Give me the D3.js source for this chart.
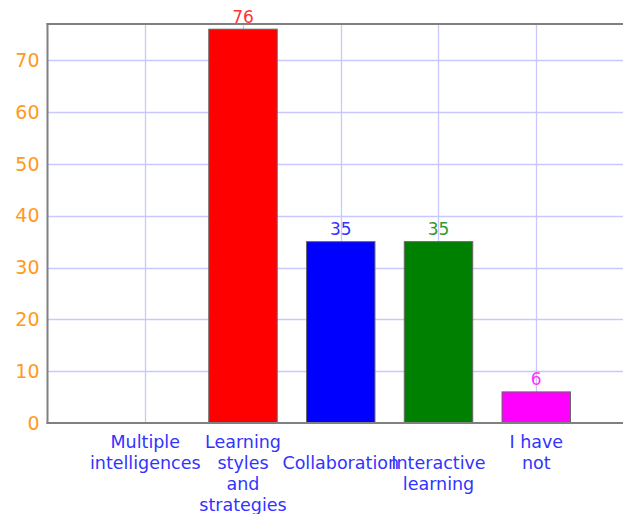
<!DOCTYPE html>
<html>
<head>
<meta charset="utf-8">
<script src="https://cdn.jsdelivr.net/npm/d3@7"></script>
<style>
  html, body { margin: 0; padding: 0; background: #fff; }
  svg { display: block; }
</style>
</head>
<body>
<svg id="chart" width="623" height="514"></svg>
<script>
// ---- data ----
const categories = ["Multiple intelligences", "Learning styles and strategies", "Collaboration", "Interactive learning", "I have not"];
const values = [0, 76, 35, 35, 6];
const barColors = ["#ff9900", "#ff0000", "#0000ff", "#008000", "#ff00ff"];
const valueLabelColors = ["#ff9900", "#ff3333", "#3333ff", "#339933", "#ff33ff"];
const yTicks = [0, 10, 20, 30, 40, 50, 60, 70];
// label lines as wrapped in the reference
const labelLines = [["Multiple", "intelligences"], ["Learning", "styles", "and", "strategies"], ["Collaboration"], ["Interactive", "learning"], ["I have", "not"]];
const labelStartLine = [0, 0, 1, 1, 0];

// ---- layout ----
const plotLeft = 47.5, plotTop = 24, plotBottom = 423, plotRight = 634;
const svg = d3.select("#chart");
const font = "DejaVu Sans, Verdana, sans-serif";

const x = d3.scaleLinear().domain([0, categories.length + 1]).range([plotLeft, plotRight]);
const y = d3.scaleLinear().domain([0, 77]).range([plotBottom, plotTop]);
const barW = x(0.7) - x(0);

// grid
svg.append("g").selectAll("line").data(yTicks.filter(d => d > 0)).join("line")
  .attr("x1", plotLeft).attr("x2", 623)
  .attr("y1", d => Math.round(y(d)) + 0.5).attr("y2", d => Math.round(y(d)) + 0.5)
  .attr("stroke", "#c8c8ff").attr("stroke-width", 1.3);
svg.append("g").selectAll("line").data(categories).join("line")
  .attr("x1", (d, i) => Math.round(x(i + 1)) + 0.5).attr("x2", (d, i) => Math.round(x(i + 1)) + 0.5)
  .attr("y1", plotTop).attr("y2", plotBottom)
  .attr("stroke", "#c8c8ff").attr("stroke-width", 1.3);

// bars
svg.append("g").selectAll("rect").data(values).join("rect")
  .attr("x", (d, i) => x(i + 1) - barW / 2)
  .attr("y", d => y(d))
  .attr("width", barW)
  .attr("height", d => plotBottom - y(d))
  .attr("fill", (d, i) => barColors[i])
  .attr("stroke", "#666")
  .attr("stroke-width", 1)
  .style("display", d => d > 0 ? null : "none");

// value labels
svg.append("g").selectAll("text").data(values).join("text")
  .attr("x", (d, i) => x(i + 1))
  .attr("y", d => y(d) - 6.5)
  .attr("text-anchor", "middle")
  .attr("font-family", font)
  .attr("font-size", 17)
  .attr("fill", (d, i) => valueLabelColors[i])
  .text(d => d)
  .style("display", d => d > 0 ? null : "none");

// axes frame
const yAxis = d3.axisLeft(y).tickValues(yTicks).tickSize(0).tickPadding(8);
const gy = svg.append("g").attr("transform", `translate(${plotLeft},0)`).call(yAxis);
gy.select(".domain").remove();
gy.selectAll("text").attr("font-family", font).attr("font-size", 19).attr("fill", "#ff9922");

svg.append("line").attr("x1", plotLeft).attr("x2", plotLeft).attr("y1", plotTop - 1).attr("y2", plotBottom + 1)
  .attr("stroke", "#808080").attr("stroke-width", 2);
svg.append("line").attr("x1", plotLeft - 1).attr("x2", 623).attr("y1", plotBottom).attr("y2", plotBottom)
  .attr("stroke", "#808080").attr("stroke-width", 2);
svg.append("line").attr("x1", plotLeft - 1).attr("x2", 623).attr("y1", plotTop).attr("y2", plotTop)
  .attr("stroke", "#808080").attr("stroke-width", 2);

// category labels
const catG = svg.append("g");
categories.forEach((c, i) => {
  const t = catG.append("text")
    .attr("text-anchor", "middle")
    .attr("font-family", font)
    .attr("font-size", 17.5)
    .attr("fill", "#3333ff");
  labelLines[i].forEach((ln, j) => {
    t.append("tspan")
      .attr("x", x(i + 1))
      .attr("y", 447.5 + 21 * (labelStartLine[i] + j))
      .text(ln);
  });
});
</script>
</body>
</html>
